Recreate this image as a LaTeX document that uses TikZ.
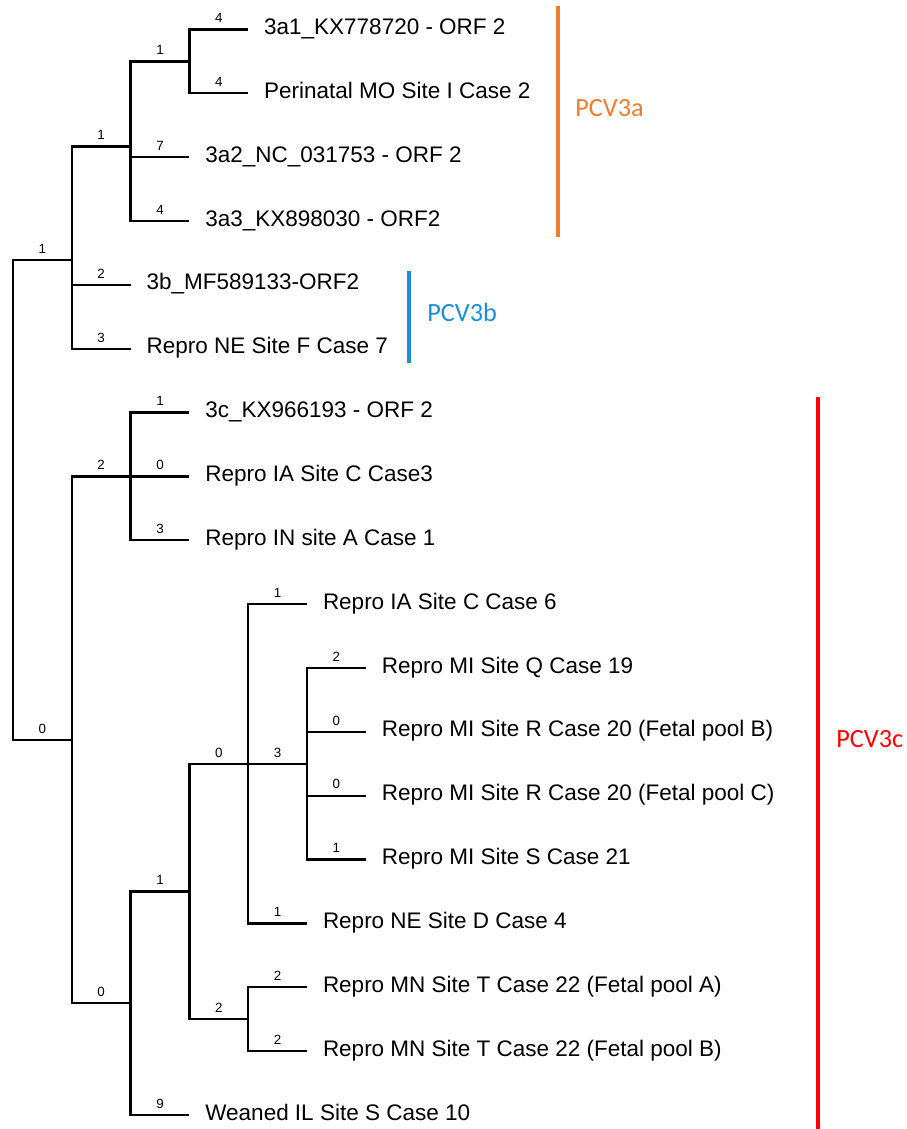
\documentclass[tikz,border=0pt]{standalone}
\usepackage{fontspec}
\setmainfont{Liberation Sans}
\newfontfamily\cladefont{Carlito}
\definecolor{cladeA}{RGB}{237,125,49}
\definecolor{cladeB}{RGB}{27,143,214}
\definecolor{cladeC}{RGB}{255,0,0}
\begin{document}
\begin{tikzpicture}[x=1cm,y=1cm,text=black,
  branch/.style={line width=1.6pt},
  taxon/.style={anchor=west,inner xsep=.4cm,inner ysep=0pt,outer sep=0pt,text height=.72em,text depth=0pt,font=\fontsize{16}{19}\selectfont},
  len/.style={above=.14cm,inner sep=0pt,text depth=0pt,font=\fontsize{9.5}{11}\selectfont},
  bar/.style={line width=2.2pt},
  group/.style={anchor=west,inner sep=0pt,text height=.64em,text depth=0pt,font=\cladefont\fontsize{18.7}{22}\selectfont}]
\useasboundingbox (0,0) rectangle (22.65,28.225);
\fill[white] (0,0) rectangle (22.65,28.225);

% INTERNAL NODES
\coordinate (root) at (.325,15.726);
\coordinate (n3ab) at (1.795,21.723);
\coordinate (n3a) at (3.265,24.561);
\coordinate (n3a1) at (4.735,26.689);
\coordinate (n3c) at (1.795,9.729);
\coordinate (n3cx) at (3.265,16.314);
\coordinate (n3cy) at (3.265,3.145);
\coordinate (nrep) at (4.735,5.938);
\coordinate (nmid) at (6.205,9.131);
\coordinate (nmi) at (7.675,9.131);
\coordinate (nmn) at (6.205,2.746);

% TAXA
\node[taxon] (l1) at (6.205,27.488) {3a1\_KX778720 - ORF 2};
\node[taxon] (l2) at (6.205,25.891) {Perinatal MO Site I Case 2};
\node[taxon] (l3) at (4.735,24.295) {3a2\_NC\_031753 - ORF 2};
\node[taxon] (l4) at (4.735,22.699) {3a3\_KX898030 - ORF2};
\node[taxon] (l5) at (3.265,21.103) {3b\_MF589133-ORF2};
\node[taxon] (l6) at (3.265,19.506) {Repro NE Site F Case 7};
\node[taxon] (l7) at (4.735,17.910) {3c\_KX966193 - ORF 2};
\node[taxon] (l8) at (4.735,16.314) {Repro IA Site C Case3};
\node[taxon] (l9) at (4.735,14.718) {Repro IN site A Case 1};
\node[taxon] (l10) at (7.675,13.121) {Repro IA Site C Case 6};
\node[taxon] (l11) at (9.145,11.525) {Repro MI Site Q Case 19};
\node[taxon] (l12) at (9.145,9.929) {Repro MI Site R Case 20 (Fetal pool B)};
\node[taxon] (l13) at (9.145,8.333) {Repro MI Site R Case 20 (Fetal pool C)};
\node[taxon] (l14) at (9.145,6.736) {Repro MI Site S Case 21};
\node[taxon] (l15) at (7.675,5.140) {Repro NE Site D Case 4};
\node[taxon] (l16) at (7.675,3.544) {Repro MN Site T Case 22 (Fetal pool A)};
\node[taxon] (l17) at (7.675,1.948) {Repro MN Site T Case 22 (Fetal pool B)};
\node[taxon] (l18) at (4.735,0.351) {Weaned IL Site S Case 10};

% BRANCHES
\draw[branch] (root) |- node[len,pos=.75]{1} (n3ab)
  (root) |- node[len,pos=.75]{0} (n3c);
\draw[branch] (n3ab) |- node[len,pos=.75]{1} (n3a)
  (n3ab) |- node[len,pos=.75]{2} (l5.west)
  (n3ab) |- node[len,pos=.75]{3} (l6.west);
\draw[branch] (n3a) |- node[len,pos=.75]{1} (n3a1)
  (n3a) |- node[len,pos=.75]{7} (l3.west)
  (n3a) |- node[len,pos=.75]{4} (l4.west);
\draw[branch] (n3a1) |- node[len,pos=.75]{4} (l1.west)
  (n3a1) |- node[len,pos=.75]{4} (l2.west);
\draw[branch] (n3c) |- node[len,pos=.75]{2} (n3cx)
  (n3c) |- node[len,pos=.75]{0} (n3cy);
\draw[branch] (n3cx) |- node[len,pos=.75]{1} (l7.west)
  (n3cx) |- node[len,pos=.75]{0} (l8.west)
  (n3cx) |- node[len,pos=.75]{3} (l9.west);
\draw[branch] (n3cy) |- node[len,pos=.75]{1} (nrep)
  (n3cy) |- node[len,pos=.75]{9} (l18.west);
\draw[branch] (nrep) |- node[len,pos=.75]{0} (nmid)
  (nrep) |- node[len,pos=.75]{2} (nmn);
\draw[branch] (nmid) |- node[len,pos=.75]{1} (l10.west)
  (nmid) |- node[len,pos=.75]{3} (nmi)
  (nmid) |- node[len,pos=.75]{1} (l15.west);
\draw[branch] (nmi) |- node[len,pos=.75]{2} (l11.west)
  (nmi) |- node[len,pos=.75]{0} (l12.west)
  (nmi) |- node[len,pos=.75]{0} (l13.west)
  (nmi) |- node[len,pos=.75]{1} (l14.west);
\draw[branch] (nmn) |- node[len,pos=.75]{2} (l16.west)
  (nmn) |- node[len,pos=.75]{2} (l17.west);

% CLADE BARS
\draw[bar,cladeA] (13.95,28.075) -- (13.95,22.3);
\node[group,text=cladeA] (pcv3a) at (14.375,25.425) {PCV3a};
\draw[bar,cladeB] (10.225,21.45) -- (10.225,19.15);
\node[group,text=cladeB] (pcv3b) at (10.675,20.3) {PCV3b};
\draw[bar,cladeC] (20.45,18.3) -- (20.45,0);
\node[group,text=cladeC] (pcv3c) at (20.9,9.65) {PCV3c};
\end{tikzpicture}
\end{document}
